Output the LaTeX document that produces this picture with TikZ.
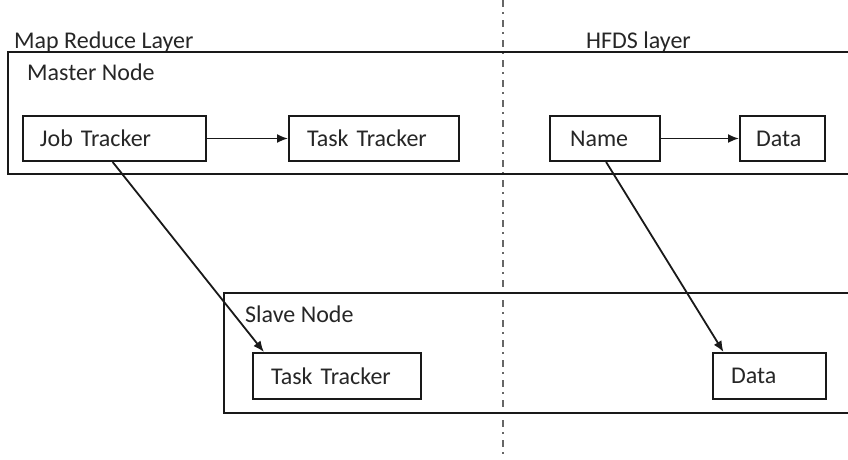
\documentclass[tikz,border=0pt]{standalone}
\usepackage{fontspec}
\setmainfont{Carlito}
\usetikzlibrary{arrows.meta,calc}

\tikzset{
  frame/.style={draw=black!90, line width=2pt},
  compbox/.style={draw=black!90, line width=2pt, anchor=north west,
    inner xsep=0pt, inner ysep=0pt, align=left, text=black!85,
    font=\fontsize{24}{28}\selectfont},
  caption/.style={anchor=base west, inner sep=0pt, text=black!85,
    font=\fontsize{24}{28}\selectfont},
  link/.style={draw=black!90, line width=1.8pt, -{Latex[length=11pt,width=9pt]}},
  divider/.style={draw=black!60, line width=2pt,
    dash pattern=on 7pt off 5pt on 2pt off 6pt}
}

\begin{document}
\begin{tikzpicture}[x=1pt, y=-1pt]
  \useasboundingbox (0,0) rectangle (848,459);
  \clip (0,0) rectangle (848,459);

  % layer divider
  \draw[divider] (503,0) -- (503,459);

  % layer titles
  \node[caption] (mrl) at (14,48) {Map Reduce Layer};
  \node[caption] (hfl) at (586,48) {HFDS layer};

  % master node frame
  \draw[frame] (8,52) rectangle (870,174);
  \node[caption] (mst) at (27,80) {Master Node};

  % slave node frame
  \draw[frame] (224,293) rectangle (870,413);
  \node[caption] (slv) at (245,322) {Slave Node};

  % components, text set flush left in each box
  \node[compbox, minimum width=183pt, minimum height=45pt, text width=183pt] (job) at (22,115)
    {\hspace*{17pt}Job Tracker};
  \node[compbox, minimum width=170pt, minimum height=45pt, text width=170pt] (mtt) at (288,115)
    {\hspace*{18pt}Task Tracker};
  \node[compbox, minimum width=110pt, minimum height=45pt, text width=110pt] (name) at (549,115)
    {\hspace*{20pt}Name};
  \node[compbox, minimum width=85pt, minimum height=45pt, text width=85pt] (mdata) at (739,115)
    {\hspace*{16pt}Data};
  \node[compbox, minimum width=168pt, minimum height=46pt, text width=168pt] (stt) at (252,352)
    {\hspace*{18pt}Task Tracker};
  \node[compbox, minimum width=113pt, minimum height=46pt, text width=113pt] (sdata) at (712,352)
    {\hspace*{18pt}Data};

  % connectors
  \draw[link] (job.east) -- (mtt.west);
  \draw[link] (name.east) -- (mdata.west);
  \draw[link] ($(job.south west)!0.49!(job.south east)$) -- ($(stt.north west)!0.07!(stt.north east)$);
  \draw[link] ($(name.south west)!0.51!(name.south east)$) -- ($(sdata.north west)!0.1!(sdata.north east)$);
\end{tikzpicture}
\end{document}
